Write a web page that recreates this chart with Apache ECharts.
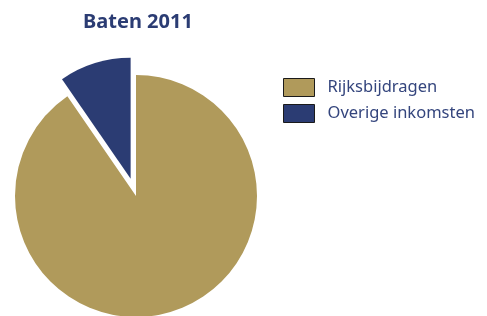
<!DOCTYPE html>
<html>
<head>
<meta charset="utf-8">
<script src="https://cdn.jsdelivr.net/npm/echarts@6/dist/echarts.min.js"></script>
<style>
  html, body { margin: 0; padding: 0; background: #fff; }
  #chart { width: 487px; height: 316px; }
</style>
</head>
<body>
<div id="chart"></div>
<script>
const categories = ['Rijksbijdragen', 'Overige inkomsten'];
const values = [90.4, 9.6];
const colors = ['#b09a5b', '#2b3c73'];

const chart = echarts.init(document.getElementById('chart'));

const option = {
  backgroundColor: '#fff',
  animation: false,
  title: {
    text: 'Baten 2011',
    left: 83,
    top: 12,
    padding: 0,
    textStyle: {
      color: '#2b3c73',
      fontFamily: 'Noto Sans',
      fontSize: 20,
      fontWeight: 'bold',
    },
  },
  legend: {
    orient: 'vertical',
    left: 283,
    top: 78,
    padding: 0,
    itemWidth: 31,
    itemHeight: 18,
    itemGap: 7,
    data: categories,
    icon: 'rect',
    itemStyle: { borderColor: '#1a1a1a', borderWidth: 1 },
    textStyle: {
      color: '#34457d',
      fontFamily: 'Noto Sans',
      fontSize: 16.5,
      padding: [0, 0, 0, 8],
    },
    selectedMode: false,
  },
  series: [
    {
      type: 'pie',
      center: [136, 196],
      radius: 121,
      startAngle: 90,
      clockwise: true,
      selectedMode: 'single',
      selectedOffset: 18,
      label: { show: false },
      labelLine: { show: false },
      emphasis: { disabled: true },
      data: categories.map((name, i) => ({
        name,
        value: values[i],
        selected: i === 1,
        itemStyle: { color: colors[i] },
      })),
    },
  ],
};

chart.setOption(option);
</script>
</body>
</html>
